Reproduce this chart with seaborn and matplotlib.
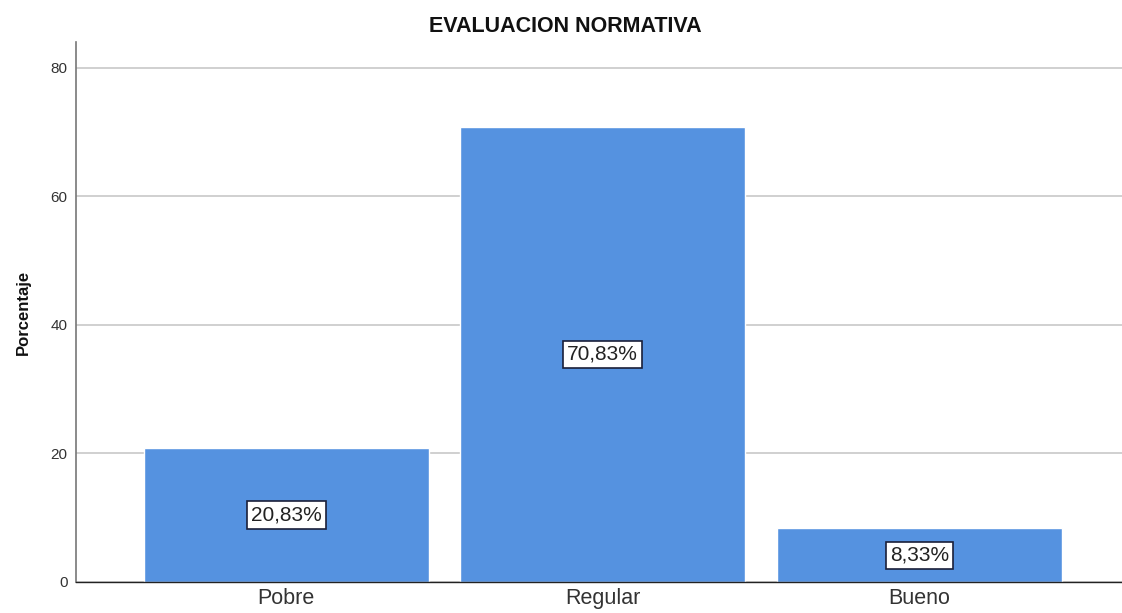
import pandas as pd
import matplotlib
matplotlib.use("Agg")
import matplotlib.pyplot as plt
import seaborn as sns

# ----------------------------
# Data
# ----------------------------
categorias = ["Pobre", "Regular", "Bueno"]
porcentajes = [20.83, 70.83, 8.33]
etiquetas = ["20,83%", "70,83%", "8,33%"]
yticks = [0, 20, 40, 60, 80]

df = pd.DataFrame({"Categoria": categorias, "Porcentaje": porcentajes})

# ----------------------------
# Style
# ----------------------------
sns.set_style("white")
plt.rcParams["font.family"] = ["Liberation Sans", "DejaVu Sans"]

fig = plt.figure(figsize=(11.22, 6.13), dpi=100)
ax = fig.add_axes([0.0677, 0.0506, 0.9323, 0.881])

sns.barplot(
    data=df,
    x="Categoria",
    y="Porcentaje",
    color="#5592e0",
    saturation=1,
    width=0.9,
    ax=ax,
    zorder=2,
)

# value labels in white boxes at mid-height
for i, (v, txt) in enumerate(zip(porcentajes, etiquetas)):
    ax.text(
        i, v / 2, txt,
        ha="center", va="center", fontsize=15, color="#222222", zorder=4,
        bbox=dict(boxstyle="square,pad=0.2", facecolor="white",
                  edgecolor="#1a1f3a", linewidth=1.2),
    )

ax.set_xlim(-0.664, 2.64)
ax.set_ylim(0, 84)
ax.set_yticks(yticks)
ax.yaxis.grid(True, color="#c8c8c8", linewidth=1.2, zorder=0)
ax.set_axisbelow(True)

ax.set_title("EVALUACION NORMATIVA", fontsize=15.5, fontweight="bold", pad=7,
             x=0.468, color="#111111")
ax.set_ylabel("Porcentaje", fontsize=12, fontweight="bold", labelpad=14,
              color="#111111")
ax.set_xlabel("")

ax.tick_params(axis="y", labelsize=11, length=0, pad=6, colors="#333333")
ax.tick_params(axis="x", labelsize=15.5, length=0, pad=4, colors="#333333")

for s in ["top", "right"]:
    ax.spines[s].set_visible(False)
ax.spines["left"].set_color("#777777")
ax.spines["left"].set_linewidth(1.2)
ax.spines["bottom"].set_color("#222222")
ax.spines["bottom"].set_linewidth(1.0)

plt.savefig("out.png", dpi=100)
